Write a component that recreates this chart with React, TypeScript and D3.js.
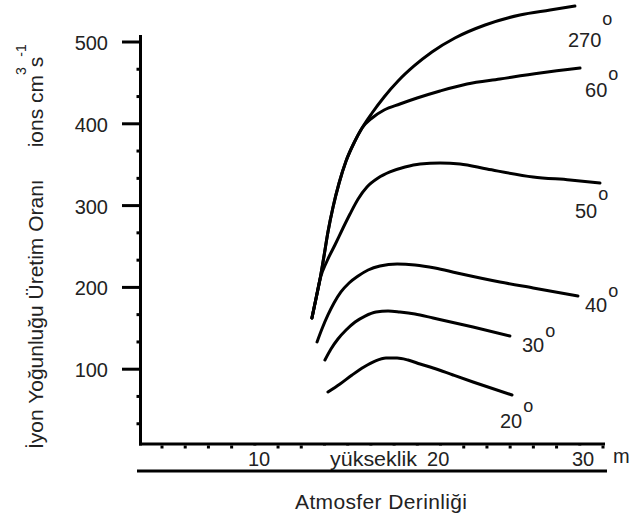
import React from "react";
import * as d3 from "d3";

// ---- data ----
const angleLabels = ["270", "60", "50", "40", "30", "20"];

// x in axis-tick units, y in ion production rate
const s270: [number, number][] = [
  [6.46, 162.6], [6.64, 187], [6.81, 210.3], [6.98, 238.4], [7.15, 267.7], [7.37, 298.3],
  [7.63, 327.6], [7.93, 354.5], [8.27, 376.5], [8.62, 394.9], [9.05, 413.2], [9.57, 432.8],
  [10.17, 452.3], [10.86, 470.7], [11.63, 487.8], [12.62, 504.9], [13.92, 520.8],
  [15.42, 533], [16.72, 539.1], [17.79, 544],
];
const s60: [number, number][] = [
  [6.46, 162.6], [6.64, 187], [6.81, 210.3], [6.98, 238.4], [7.15, 267.7], [7.37, 298.3],
  [7.63, 327.6], [7.93, 354.5], [8.27, 376.5], [8.62, 394.9], [9.05, 407.1], [9.57, 416.9],
  [10.25, 424.2], [10.99, 431.5], [11.98, 440.1], [13.14, 448.7], [14.56, 454.8],
  [16.29, 462.1], [18.01, 468.2],
];
const s50: [number, number][] = [
  [6.46, 162.6], [6.64, 187], [6.81, 210.3], [7.11, 232.3], [7.45, 251.8], [7.8, 272.6],
  [8.1, 289.7], [8.45, 308.1], [8.83, 322.7], [9.31, 333.7], [9.82, 341.1], [10.47, 347.2],
  [11.12, 350.9], [11.98, 352.1], [12.84, 350.9], [14.0, 344.7], [15.99, 335],
  [17.58, 331.3], [18.87, 327.6],
];
const s40: [number, number][] = [
  [6.68, 133.3], [6.89, 149.1], [7.15, 166.3], [7.41, 180.9], [7.71, 194.4], [8.06, 205.4],
  [8.45, 213.9], [8.88, 221.3], [9.39, 226.2], [10.13, 228.6], [10.9, 227.4], [11.76, 223.7],
  [12.71, 217.6], [14.56, 206.6], [15.99, 199.3], [17.92, 189.5],
];
const s30: [number, number][] = [
  [7.02, 111.2], [7.28, 124.7], [7.58, 136.9], [7.93, 147.9], [8.32, 157.7], [8.75, 165],
  [9.22, 169.9], [9.74, 171.1], [10.25, 169.9], [10.9, 167.5], [11.68, 162.6], [13.4, 151.6],
  [14.99, 140.6],
];
const s20: [number, number][] = [
  [7.15, 72.1], [7.67, 81.9], [8.19, 92.9], [8.7, 102.7], [9.18, 110], [9.65, 113.7],
  [10.13, 113.7], [10.6, 111.2], [11.12, 106.4], [11.68, 101.5], [12.54, 92.9], [13.4, 84.4],
  [15.08, 68.5],
];
const seriesList = [s270, s60, s50, s40, s30, s20];

const yMajorTicks = [100, 200, 300, 400, 500];
const yMinorTicks = [33.3, 66.7, 133.3, 166.7, 233.3, 266.7, 333.3, 366.7, 433.3, 466.7];
const xTicks = d3.range(0, 20);
const xLabelTexts = ["10", "yükseklik", "20", "30"];
const xLabelPos = [3.7, 7.24, 11.42, 17.66];
const xUnitText = "m";
const xUnitPos = 19.43;
const xTitle = "Atmosfer Derinliği";
const yTitleMain = "İyon Yoğunluğu Üretim Oranı";
const yTitleUnit = "ions cm";

// ---- styles / layout ----
// [dx, dy, superscript raise] for each curve label, relative to the curve end
const labelOffsets = [
  [-7, 41, 22], [5, 29, 17], [-25, 35, 18], [7, 16, 15], [12, 16, 15], [-12, 33, 16],
];

const W = 629;
const H = 519;
const FONT = "'Liberation Sans', Arial, sans-serif";
const TXT = "#222";

export default function App() {
  const x = d3.scaleLinear().domain([0, 19]).range([162, 603]);
  const y = d3.scaleLinear().domain([0, 500]).range([451, 42]);
  const line = d3
    .line<[number, number]>()
    .x((d) => x(d[0]))
    .y((d) => y(d[1]))
    .curve(d3.curveMonotoneX);

  const axisX = 140.5;
  const axisTop = 35;
  const axisY = 444;
  const axisRight = 605;

  // approximate text widths for white boxes behind x labels
  const labelWidths = [23, 88, 24, 24];

  return (
    <svg
      width={W}
      height={H}
      style={{ position: "absolute", left: 0, top: 0, background: "#fff" }}
      fontFamily={FONT}
    >
      <rect x={0} y={0} width={W} height={H} fill="#fff" />

      {/* y axis */}
      <line x1={axisX} y1={axisTop} x2={axisX} y2={axisY + 1.5} stroke="#000" strokeWidth={3} />
      {yMajorTicks.map((t) => (
        <line key={"ymj" + t} x1={122} x2={axisX} y1={y(t)} y2={y(t)} stroke="#000" strokeWidth={3} />
      ))}
      {yMinorTicks.map((t) => (
        <rect key={"ymn" + t} x={136.5} y={y(t) - 1.5} width={3} height={3} fill="#000" />
      ))}
      {yMajorTicks.map((t) => (
        <text key={"yl" + t} x={108} y={y(t) + 8} textAnchor="end" fontSize={20} fill={TXT}>
          {t}
        </text>
      ))}

      {/* x axis */}
      <line x1={axisX - 1.5} y1={axisY} x2={axisRight} y2={axisY} stroke="#000" strokeWidth={3} />
      {xTicks.map((t) => (
        <rect key={"xt" + t} x={x(t) - 1.5} y={445.5} width={3} height={3} fill="#000" />
      ))}
      {xLabelTexts.map((t, i) => (
        <rect
          key={"xb" + i}
          x={x(xLabelPos[i]) - 8}
          y={446}
          width={labelWidths[i] + 12}
          height={22}
          fill="#fff"
        />
      ))}
      {xLabelTexts.map((t, i) =>
        t === "yükseklik" ? (
          <text
            key={"xl" + i}
            x={x(xLabelPos[i])}
            y={466}
            fontSize={20}
            fill={TXT}
            textLength={87}
            lengthAdjust="spacingAndGlyphs"
          >
            {t}
          </text>
        ) : (
          <text key={"xl" + i} x={x(xLabelPos[i])} y={466} fontSize={20} fill={TXT}>
            {t}
          </text>
        )
      )}
      <text x={x(xUnitPos)} y={463} fontSize={20} fill={TXT}>
        {xUnitText}
      </text>
      <line x1={137} x2={607} y1={471} y2={471} stroke="#000" strokeWidth={3} />
      <text
        x={295}
        y={509}
        fontSize={21}
        fill={TXT}
        textLength={172}
        lengthAdjust="spacing"
      >
        {xTitle}
      </text>

      {/* y title */}
      <text transform="translate(43,449) rotate(-90)" fontSize={21} fill={TXT}>
        {yTitleMain}
        <tspan dx={32}>{yTitleUnit}</tspan>
        <tspan dy={-17} fontSize={14}>3</tspan>
        <tspan dy={17}>s</tspan>
        <tspan dy={-17} fontSize={14}>-1</tspan>
      </text>

      {/* curves */}
      {seriesList.map((s, i) => (
        <path
          key={"c" + i}
          d={line(s) || ""}
          fill="none"
          stroke="#000"
          strokeWidth={3}
          strokeLinecap="round"
          strokeLinejoin="round"
        />
      ))}

      {/* curve labels */}
      {seriesList.map((s, i) => {
        const last = s[s.length - 1];
        const [dx, dy, raise] = labelOffsets[i];
        return (
          <text
            key={"lab" + i}
            x={x(last[0]) + dx}
            y={y(last[1]) + dy}
            fontSize={20}
            fill={TXT}
          >
            {angleLabels[i]}
            <tspan dx={1} dy={-raise} fontSize={18}>
              o
            </tspan>
          </text>
        );
      })}
    </svg>
  );
}
